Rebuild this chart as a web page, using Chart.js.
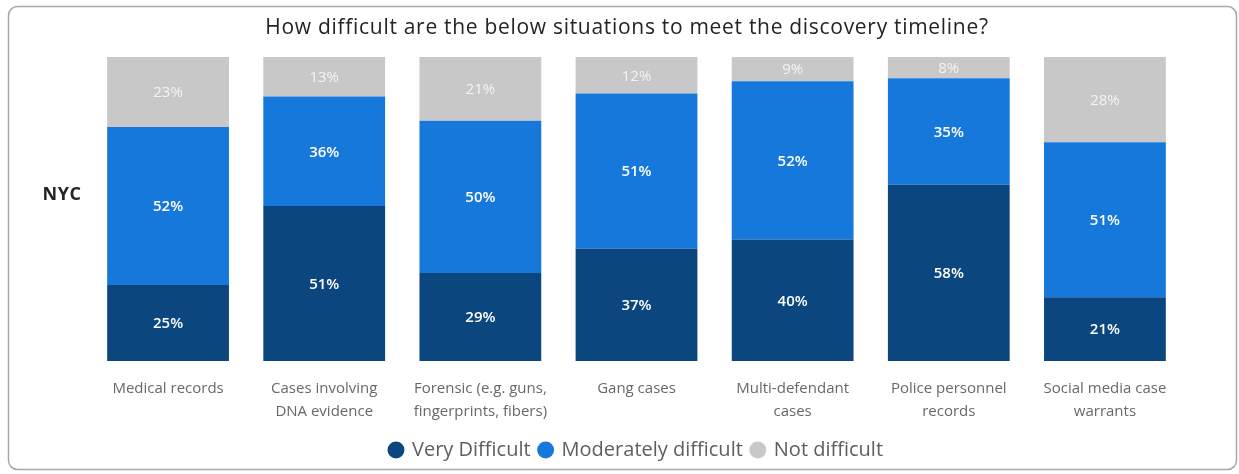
<!DOCTYPE html>
<html>
<head>
<meta charset="utf-8">
<script src="https://cdn.jsdelivr.net/npm/chart.js@4"></script>
<style>
  html, body { margin: 0; padding: 0; background: #fff; }
  #wrap { position: relative; width: 1239px; height: 474px; }
</style>
</head>
<body>
<div id="wrap"><canvas id="chart" width="1239" height="474"></canvas></div>
<script>
// data
const categories = [
  ["Medical records"],
  ["Cases involving", "DNA evidence"],
  ["Forensic (e.g. guns,", "fingerprints, fibers)"],
  ["Gang cases"],
  ["Multi-defendant", "cases"],
  ["Police personnel", "records"],
  ["Social media case", "warrants"],
];
const veryDifficult = [25, 51, 29, 37, 40, 58, 21];
const moderatelyDifficult = [52, 36, 50, 51, 52, 35, 51];
const notDifficult = [23, 13, 21, 12, 9, 8, 28];

const titleText = "How difficult are the below situations to meet the discovery timeline?";
const groupLabel = "NYC";

const fontFamily = "'Open Sans', 'Noto Sans', sans-serif";

// frame, title, row label
const framePlugin = {
  id: "frame",
  beforeDraw(chart) {
    const ctx = chart.ctx;
    ctx.save();
    ctx.strokeStyle = "#a8a8a8";
    ctx.lineWidth = 1.5;
    ctx.beginPath();
    ctx.roundRect(8.5, 6.5, 1228, 463, 9);
    ctx.stroke();
    ctx.fillStyle = "#252423";
    ctx.font = "21px " + fontFamily;
    ctx.letterSpacing = "0.7px";
    ctx.textAlign = "center";
    ctx.textBaseline = "middle";
    ctx.fillText(titleText, 627, 28);
    ctx.letterSpacing = "0.5px";
    ctx.font = "bold 18px " + fontFamily;
    ctx.fillText(groupLabel, 62, 195);
    ctx.restore();
  }
};

// value labels in the middle of each segment
const valueLabels = {
  id: "valueLabels",
  afterDatasetsDraw(chart) {
    const ctx = chart.ctx;
    const area = chart.chartArea;
    ctx.save();
    ctx.textAlign = "center";
    ctx.textBaseline = "middle";
    chart.data.datasets.forEach((ds, i) => {
      const meta = chart.getDatasetMeta(i);
      meta.data.forEach((bar, j) => {
        const top = Math.max(bar.y, area.top);
        const bottom = Math.min(bar.base, area.bottom);
        const y = (top + bottom) / 2 + 1;
        ctx.fillStyle = i === 2 ? "#f4f4f4" : "#ffffff";
        ctx.font = (i === 2 ? "" : "600 ") + "15px " + fontFamily;
        ctx.fillText(ds.data[j] + "%", bar.x, y);
      });
    });
    ctx.restore();
  }
};

new Chart(document.getElementById("chart"), {
  type: "bar",
  data: {
    labels: categories,
    datasets: [
      { label: "Very Difficult", data: veryDifficult, backgroundColor: "#0c467f" },
      { label: "Moderately difficult", data: moderatelyDifficult, backgroundColor: "#1778dc" },
      { label: "Not difficult", data: notDifficult, backgroundColor: "#c8c8c8" },
    ],
  },
  options: {
    responsive: false,
    animation: false,
    events: [],
    layout: { padding: { left: 90, right: 56, top: 57, bottom: 4 } },
    datasets: { bar: { barPercentage: 0.78, categoryPercentage: 1 } },
    scales: {
      x: {
        stacked: true,
        grid: { display: false },
        border: { display: false },
        ticks: {
          color: "#6a6866",
          font: { family: fontFamily, size: 15, lineHeight: 1.53 },
          padding: 8,
          maxRotation: 0,
          autoSkip: false,
        },
      },
      y: {
        stacked: true,
        display: false,
        min: 0,
        max: 100,
      },
    },
    plugins: {
      legend: {
        position: "bottom",
        labels: {
          usePointStyle: true,
          pointStyle: "circle",
          boxWidth: 12,
          boxHeight: 12,
          padding: 9,
          color: "#605e5c",
          font: { family: fontFamily, size: 20 },
        },
      },
      tooltip: { enabled: false },
    },
  },
  plugins: [framePlugin, valueLabels],
});
</script>
</body>
</html>
